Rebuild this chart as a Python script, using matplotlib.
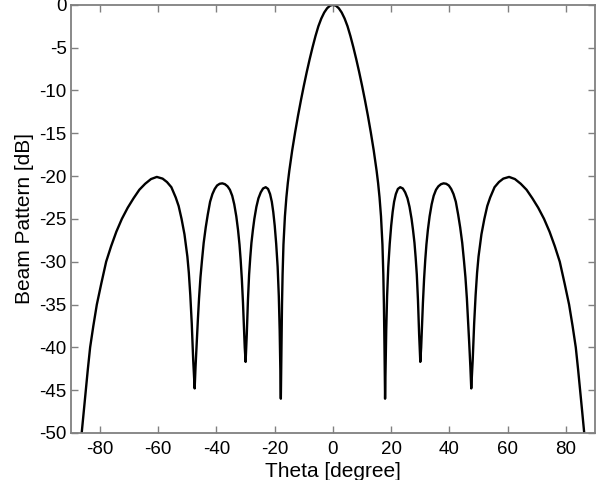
import matplotlib
matplotlib.use("Agg")
import matplotlib.pyplot as plt

# Beam pattern (theta in degrees, pattern in dB)
theta_left = [-86.3, -85.6, -84.9, -84.2, -83.4, -82.3, -81.1, -79.6, -77.9, -76.2,
              -74.4, -72.5, -70.5, -68.5, -66.5, -64.5, -62.5, -60.5, -58.5, -57.0,
              -55.5, -54.0, -53.0, -52.0, -51.0, -50.0, -49.5, -49.0, -48.5, -48.0, -47.5,
              -47.2, -46.8, -46.4, -46.0, -45.5, -45.0, -44.4, -43.7, -43.0, -42.2,
              -41.4, -40.6, -39.8, -38.9, -38.0, -37.1, -36.2, -35.4, -34.6, -33.9,
              -33.2, -32.6, -32.1, -31.7, -31.3, -30.9, -30.6, -30.3, -30.0,
              -29.6, -29.2, -28.8, -28.4, -28.0, -27.5, -27.0, -26.3, -25.6, -24.8,
              -24.0, -23.1, -22.3, -21.6, -21.0, -20.5, -20.0, -19.5, -19.0, -18.6,
              -18.3, -18.1, -17.9,
              -17.7, -17.5, -17.3, -17.0, -16.5, -16.0, -15.5, -15.0, -14.0, -13.0,
              -12.0, -11.0, -10.0, -9.0, -8.0, -7.0, -6.0, -5.0, -4.0, -3.0,
              -2.0, -1.0, 0.0]
db_left = [-50, -47.5, -45, -42.6, -40, -37.5, -35, -32.6, -30, -28.2,
           -26.5, -25.0, -23.7, -22.6, -21.6, -20.9, -20.35, -20.1, -20.3, -20.7,
           -21.3, -22.5, -23.5, -25.0, -26.8, -29.4, -31.3, -33.9, -37.2, -41.5, -44.8,
           -42.3, -39.5, -36.8, -34.3, -31.8, -29.9, -27.8, -26.0, -24.5, -23.0,
           -22.1, -21.5, -21.1, -20.9, -20.85, -20.95, -21.2, -21.6, -22.3, -23.3,
           -24.7, -26.3, -28.0, -29.8, -32.0, -34.8, -37.4, -40.0, -41.7,
           -38.5, -34.5, -31.5, -29.5, -27.8, -26.3, -25.0, -23.6, -22.6, -21.9,
           -21.45, -21.3, -21.5, -22.1, -23.0, -24.2, -25.8, -27.9, -30.6, -34.0,
           -38.0, -42.0, -46.0,
           -40, -35, -31.5, -28.0, -24.7, -22.5, -20.8, -19.4, -17.0, -14.9,
           -12.95, -11.15, -9.45, -7.85, -6.35, -4.95, -3.65, -2.5, -1.6, -0.9,
           -0.4, -0.1, 0]

theta_right = [1.0, 2.0, 3.0, 4.0, 5.0, 6.0, 7.0, 8.0, 9.0, 10.0,
               11.0, 12.0, 13.0, 14.0, 15.0, 15.5, 16.0, 16.5, 17.0, 17.3,
               17.5, 17.7, 17.9,
               18.1, 18.3, 18.6, 19.0, 19.5, 20.0, 20.5, 21.0, 21.6, 22.3,
               23.1, 24.0, 24.8, 25.6, 26.3, 27.0, 27.5, 28.0, 28.4, 28.8,
               29.2, 29.6, 30.0,
               30.3, 30.6, 30.9, 31.3, 31.7, 32.1, 32.6, 33.2, 33.9, 34.6,
               35.4, 36.2, 37.1, 38.0, 38.9, 39.8, 40.6, 41.4, 42.2, 43.0,
               43.7, 44.4, 45.0, 45.5, 46.0, 46.4, 46.8, 47.2, 47.5,
               48.0, 48.5, 49.0, 49.5, 50.0, 51.0, 52.0, 53.0, 54.0, 55.5,
               57.0, 58.5, 60.5, 62.5, 64.5, 66.5, 68.5, 70.5, 72.5, 74.4,
               76.2, 77.9, 79.6, 81.1, 82.3, 83.4, 84.2, 84.9, 85.6, 86.3]
db_right = [-0.1, -0.4, -0.9, -1.6, -2.5, -3.65, -4.95, -6.35, -7.85, -9.45,
            -11.15, -12.95, -14.9, -17.0, -19.4, -20.8, -22.5, -24.7, -28.0, -31.5,
            -35, -40, -46,
            -42.0, -38.0, -34.0, -30.6, -27.9, -25.8, -24.2, -23.0, -22.1, -21.5,
            -21.3, -21.45, -21.9, -22.6, -23.6, -25.0, -26.3, -27.8, -29.5, -31.5,
            -34.5, -38.5, -41.7,
            -40.0, -37.4, -34.8, -32.0, -29.8, -28.0, -26.3, -24.7, -23.3, -22.3,
            -21.6, -21.2, -20.95, -20.85, -20.9, -21.1, -21.5, -22.1, -23.0, -24.5,
            -26.0, -27.8, -29.9, -31.8, -34.3, -36.8, -39.5, -42.3, -44.8,
            -41.5, -37.2, -33.9, -31.3, -29.4, -26.8, -25.0, -23.5, -22.5, -21.3,
            -20.7, -20.3, -20.1, -20.35, -20.9, -21.6, -22.6, -23.7, -25.0, -26.5,
            -28.2, -30, -32.6, -35, -37.5, -40, -42.6, -45, -47.5, -50]

x_ticks = [-80, -60, -40, -20, 0, 20, 40, 60, 80]
y_ticks = [0, -5, -10, -15, -20, -25, -30, -35, -40, -45, -50]

plt.rcParams['font.family'] = ['Liberation Sans', 'DejaVu Sans']
plt.rcParams['axes.unicode_minus'] = False

fig = plt.figure(figsize=(6.01, 4.80), dpi=100)
ax = fig.add_axes([0.118, 0.098, 0.872, 0.892])

ax.plot(theta_left + theta_right, db_left + db_right, color='black',
        linewidth=1.7, solid_joinstyle='round')

ax.set_xlim(-90, 90)
ax.set_ylim(-50, 0)
ax.set_xticks(x_ticks)
ax.set_yticks(y_ticks)
ax.set_xticklabels([str(v) for v in x_ticks])
ax.set_yticklabels([str(v) for v in y_ticks])

spine_col = '#808080'
for s in ax.spines.values():
    s.set_color(spine_col)
    s.set_linewidth(1.3)
ax.tick_params(direction='in', length=5, width=1, color=spine_col,
               top=True, right=True, labelsize=13.5, labelcolor='black')
ax.tick_params(axis='x', pad=5.5)
ax.tick_params(axis='y', pad=3)

ax.set_xlabel('Theta [degree]', fontsize=15, labelpad=3.5)
ax.set_ylabel('Beam Pattern [dB]', fontsize=15, labelpad=4)

fig.savefig('out.png', dpi=100)
